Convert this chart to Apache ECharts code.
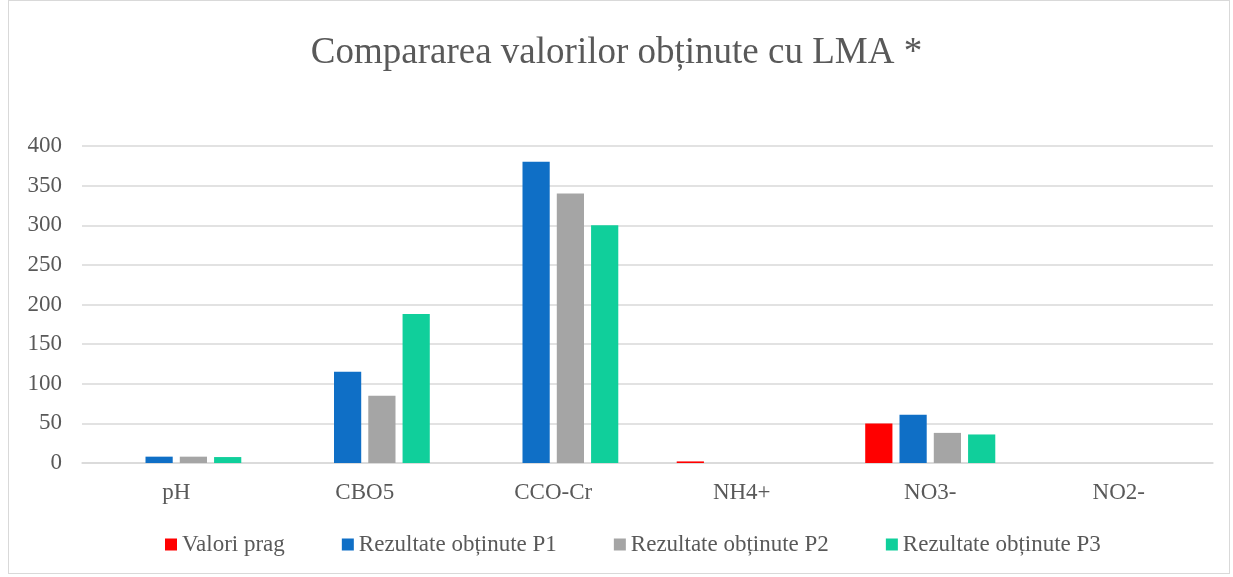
<!DOCTYPE html>
<html>
<head>
<meta charset="utf-8">
<script src="https://cdn.jsdelivr.net/npm/echarts@6/dist/echarts.min.js"></script>
<style>
html,body{margin:0;padding:0;background:#fff;}
#chart{width:1233px;height:577px;}
#frame{position:absolute;left:8px;top:0;width:1222px;height:574px;border:1px solid #d9d9d9;box-sizing:border-box;pointer-events:none;}
</style>
</head>
<body>
<div id="chart"></div>
<div id="frame"></div>
<script>
// date
var categorii = ['pH', 'CBO5', 'CCO-Cr', 'NH4+', 'NO3-', 'NO2-'];
var valoriPrag = [0, 0, 0, 2, 50, 0];
var rezultateP1 = [8, 115, 380, 0, 61, 0];
var rezultateP2 = [8, 85, 340, 0, 38, 0];
var rezultateP3 = [7.5, 188, 300, 0, 36, 0];
var numeSerii = ['Valori prag', 'Rezultate obținute P1', 'Rezultate obținute P2', 'Rezultate obținute P3'];
var culori = ['#ff0000', '#0f6fc6', '#a5a5a5', '#10cf9b'];

var font = '"Liberation Serif", "Times New Roman", serif';
var date = [valoriPrag, rezultateP1, rezultateP2, rezultateP3];

var serii = date.map(function (d, i) {
	return {
		name: numeSerii[i],
		type: 'bar',
		data: d,
		barGap: '26%',
		barCategoryGap: '31%',
		itemStyle: { color: culori[i] }
	};
});

var myChart = echarts.init(document.getElementById('chart'));
myChart.setOption({
	animation: false,
	color: culori,
	title: {
		text: 'Compararea valorilor obținute cu LMA *',
		left: 'center',
		top: 30,
		textStyle: { fontFamily: font, fontSize: 37, fontWeight: 'normal', color: '#595959' }
	},
	legend: {
		bottom: 16,
		left: 160,
		itemWidth: 12,
		itemHeight: 12,
		itemGap: 57,
		icon: 'rect',
		textStyle: { fontFamily: font, fontSize: 23, color: '#595959' },
		data: numeSerii
	},
	grid: { left: 82, right: 20, top: 146, bottom: 114 },
	xAxis: {
		type: 'category',
		data: categorii,
		axisLine: { lineStyle: { color: '#d9d9d9', width: 1.5 } },
		axisTick: { show: false },
		axisLabel: { fontFamily: font, fontSize: 23, color: '#595959', margin: 18 }
	},
	yAxis: {
		type: 'value',
		min: 0,
		max: 400,
		interval: 50,
		axisLine: { show: false },
		axisTick: { show: false },
		splitLine: { lineStyle: { color: '#d9d9d9', width: 1.5 } },
		axisLabel: { fontFamily: font, fontSize: 23, color: '#595959', margin: 20 }
	},
	series: serii
});
</script>
</body>
</html>
